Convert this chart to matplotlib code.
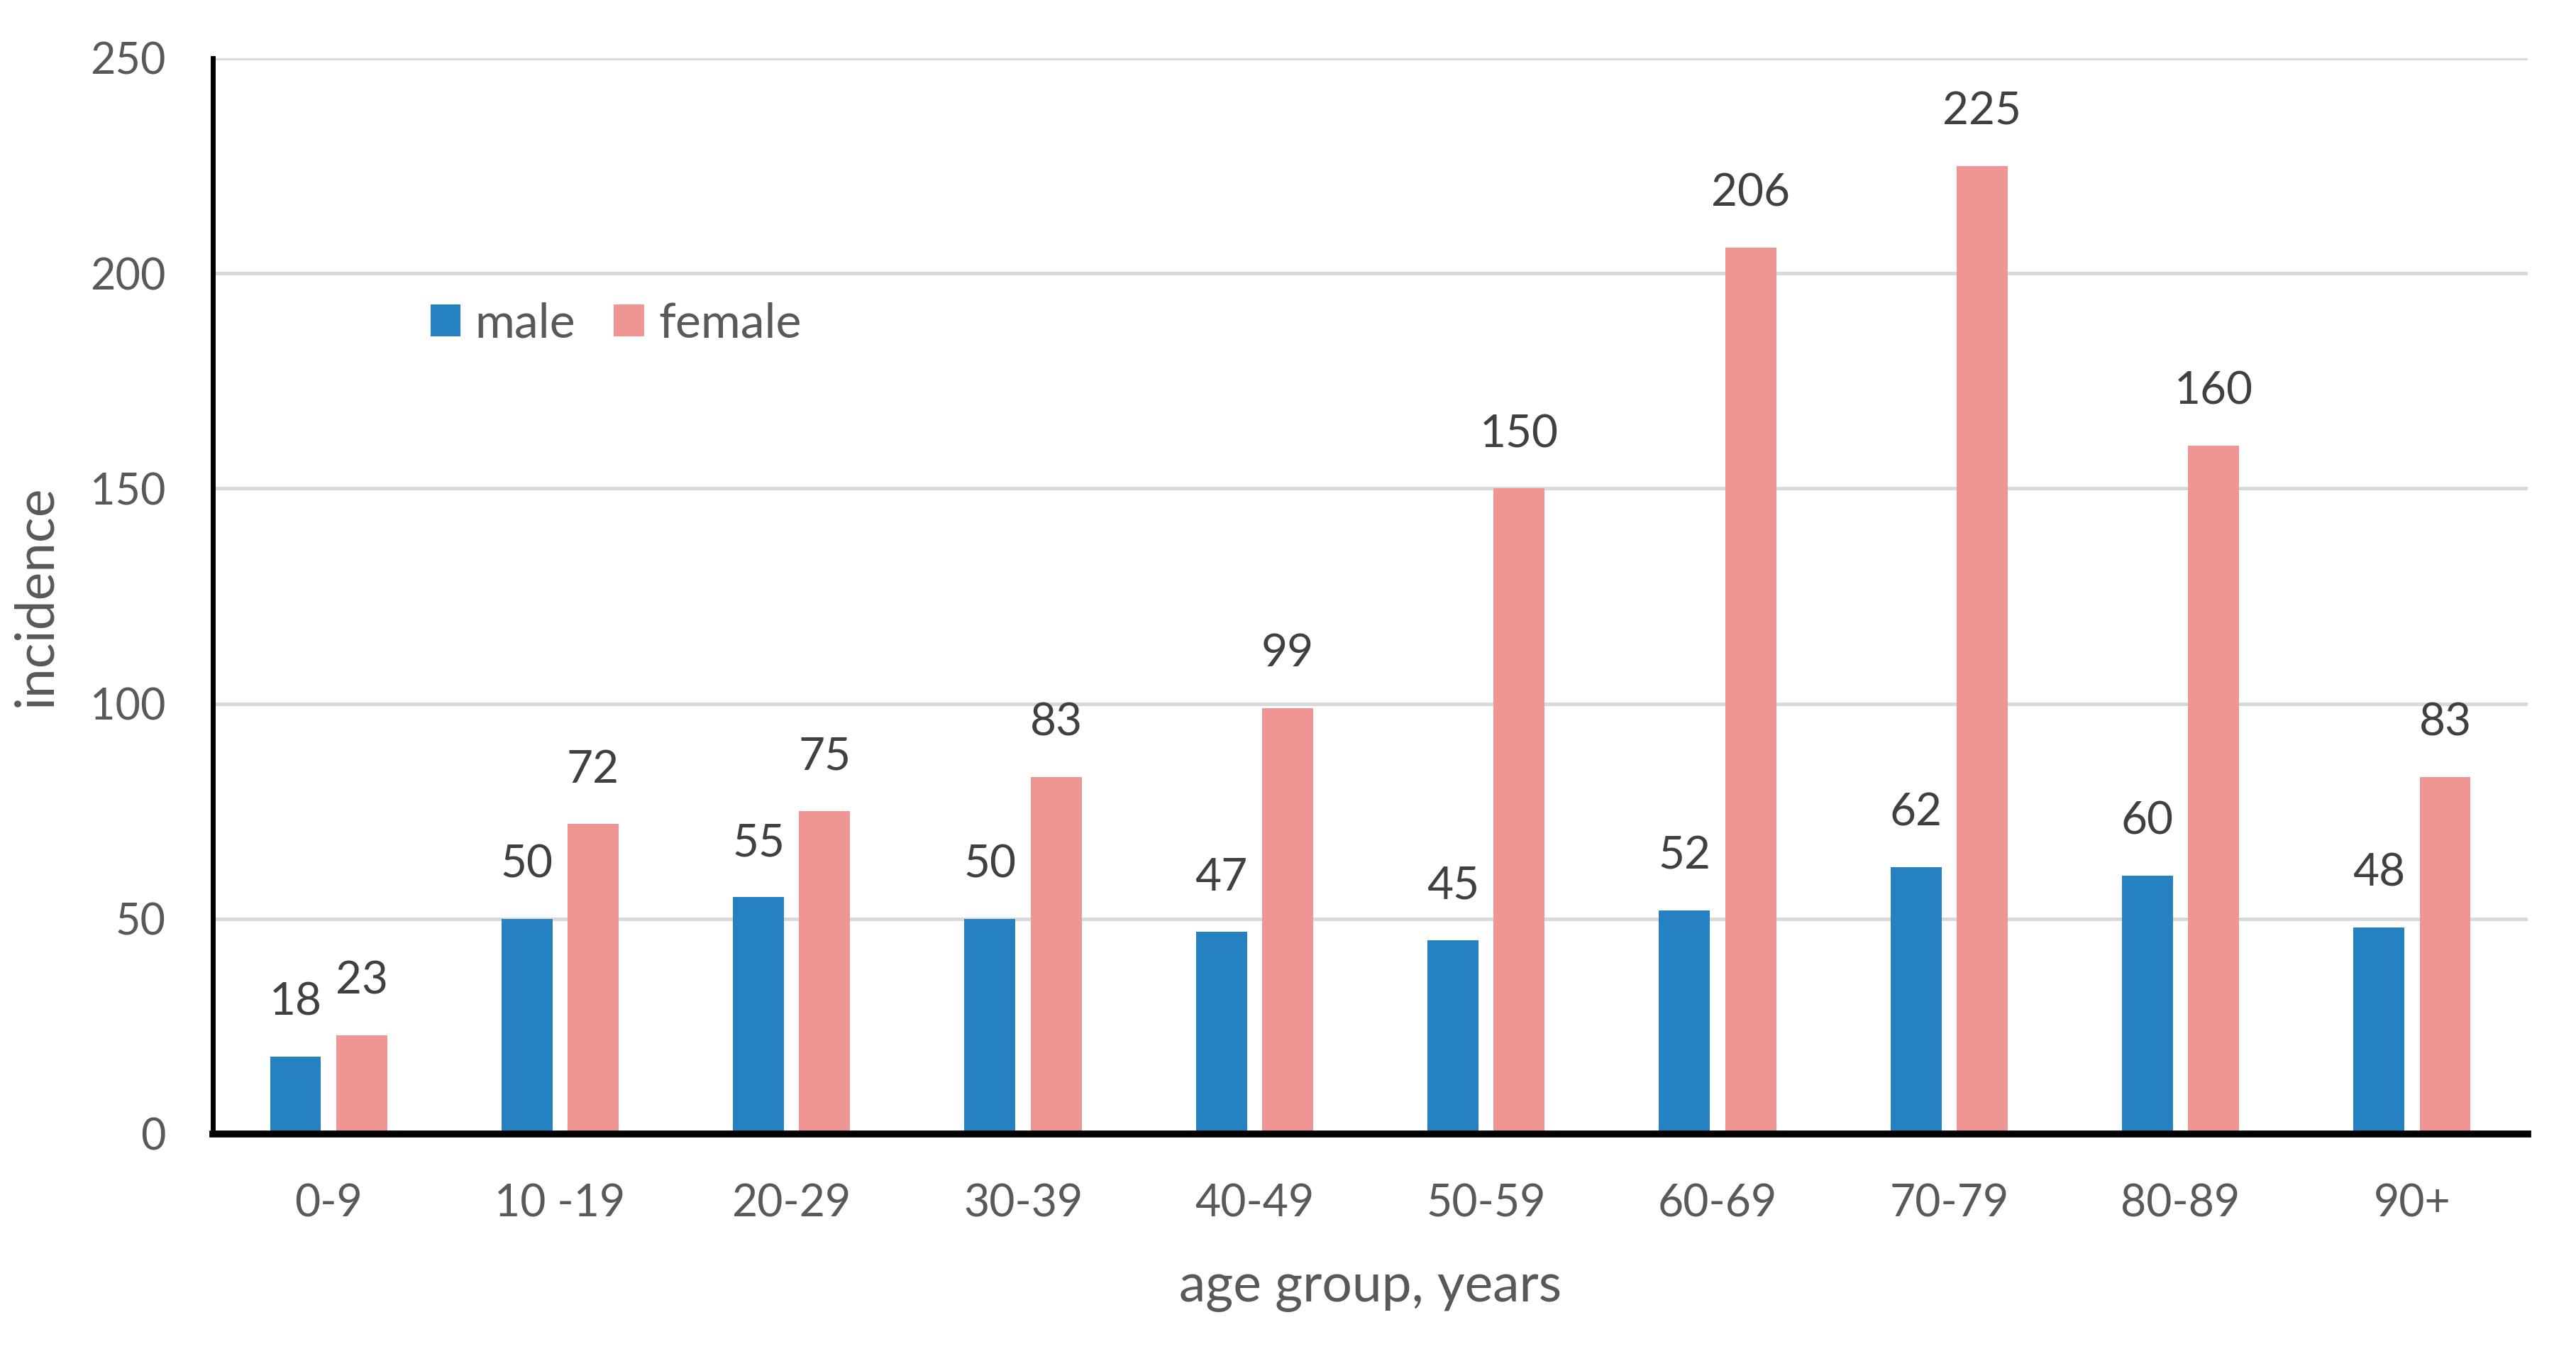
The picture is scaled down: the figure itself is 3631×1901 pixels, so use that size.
import matplotlib.pyplot as plt
import numpy as np

plt.rcParams['font.family'] = ['Lato', 'DejaVu Sans']

age_groups = ['0-9', '10 -19', '20-29', '30-39', '40-49',
              '50-59', '60-69', '70-79', '80-89', '90+']
male = [18, 50, 55, 50, 47, 45, 52, 62, 60, 48]
female = [23, 72, 75, 83, 99, 150, 206, 225, 160, 83]
y_ticks = [0, 50, 100, 150, 200, 250]

male_color = '#2581C1'
female_color = '#EF9593'
text_color = '#595959'
label_color = '#404040'

fig = plt.figure(figsize=(18.155, 9.505), dpi=200)
ax = fig.add_axes([0.0826, 0.1594, 0.8987, 0.7975])

x = np.arange(len(age_groups))
w = 0.22
off = 0.143
b1 = ax.bar(x - off, male, w, color=male_color, label='male', zorder=3)
b2 = ax.bar(x + off, female, w, color=female_color, label='female', zorder=3)

# value labels above the bars
for bars, vals in ((b1, male), (b2, female)):
    for r, v in zip(bars, vals):
        ax.annotate(str(v), (r.get_x() + r.get_width() / 2, r.get_height()),
                    xytext=(0, 21), textcoords='offset points',
                    ha='center', va='baseline', fontsize=23, color=label_color)

ax.set_xlim(-0.5, len(age_groups) - 0.5)
ax.set_ylim(0, 250)
ax.set_yticks(y_ticks)
ax.set_xticks(x)
ax.set_xticklabels(age_groups)
ax.tick_params(axis='both', length=0, labelsize=22, labelcolor=text_color)
ax.tick_params(axis='x', pad=25, labelsize=22.5)
ax.tick_params(axis='y', pad=24)

ax.grid(axis='y', color='#D9D9D9', linewidth=1.8, zorder=0)
ax.set_axisbelow(True)

for s in ('top', 'right'):
    ax.spines[s].set_visible(False)
ax.spines['left'].set_linewidth(2.5)
ax.spines['bottom'].set_linewidth(3.5)
ax.spines['left'].set_color('black')
ax.spines['bottom'].set_color('black')
ax.spines['bottom'].set_zorder(4)

ax.set_xlabel('age group, years', fontsize=27, color=text_color)
ax.xaxis.label.set_va('baseline')
ax.xaxis.set_label_coords(0.5, -0.156)
ax.set_ylabel('incidence', fontsize=27, color=text_color)
ax.yaxis.label.set_va('center')
ax.yaxis.set_label_coords(-0.0763, 0.5)

leg = ax.legend(loc='center left', bbox_to_anchor=(0.0836, 0.753), ncol=2,
                frameon=False, fontsize=24.5, borderpad=0,
                handlelength=0.62, handleheight=0.65, handletextpad=0.3,
                columnspacing=0.8)
for t in leg.get_texts():
    t.set_color(text_color)

fig.savefig('out.png', dpi=200)
